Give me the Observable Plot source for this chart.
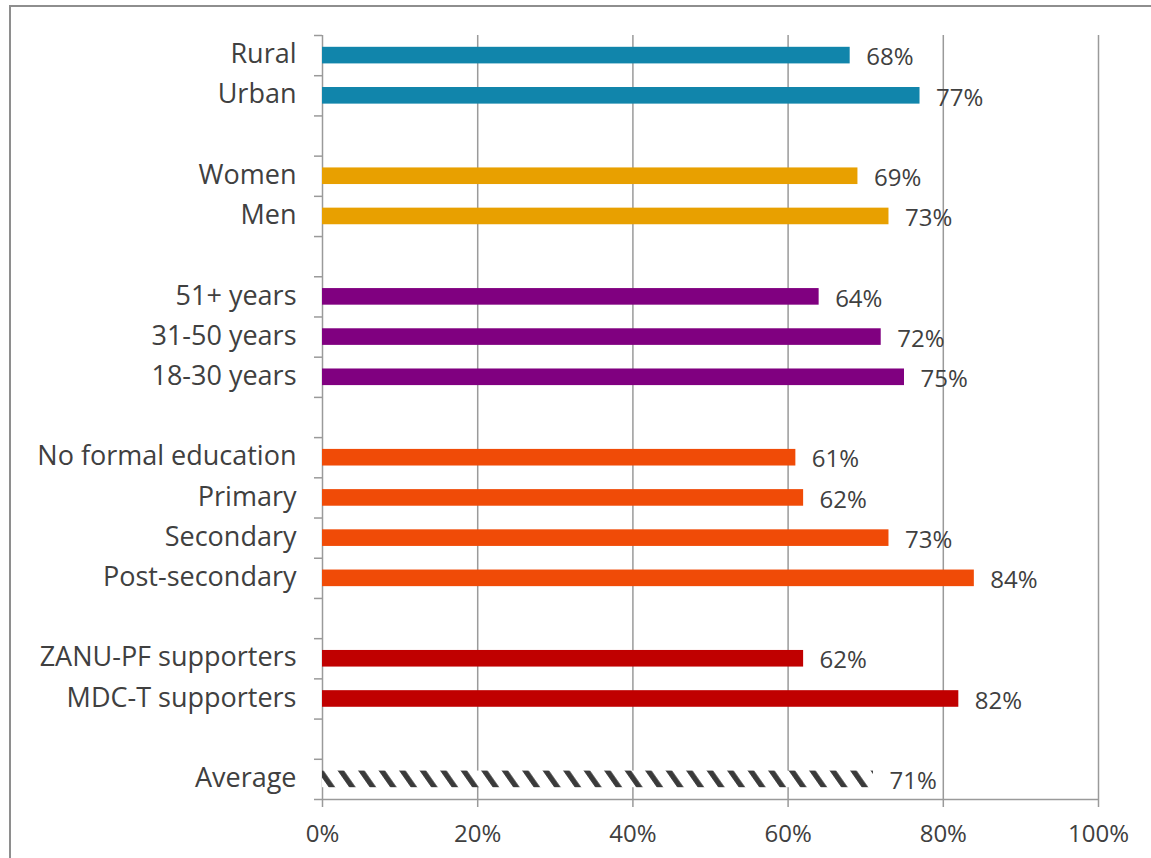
<!DOCTYPE html>
<html>
<head>
<meta charset="utf-8">
<script src="https://cdn.jsdelivr.net/npm/d3@7"></script>
<script src="https://cdn.jsdelivr.net/npm/@observablehq/plot@0.6"></script>
<style>
  html, body { margin: 0; padding: 0; background: #fff; }
  #wrap { position: relative; width: 1151px; height: 858px; overflow: hidden; background: #fff; }
  #border { position: absolute; left: 9px; top: 5px; width: 1160px; height: 880px; border: 2px solid #8e8e8e; box-sizing: border-box; }
  #chart { position: absolute; left: 0; top: 0; }
  #chart svg { font-family: "Open Sans", sans-serif; }
</style>
</head>
<body>
<div id="wrap">
  <div id="border"></div>
  <div id="chart"></div>
</div>
<script>
// Row labels in display order (null = spacer row between groups)
const categories = ["Rural", "Urban", null, "Women", "Men", null,
  "51+ years", "31-50 years", "18-30 years", null,
  "No formal education", "Primary", "Secondary", "Post-secondary", null,
  "ZANU-PF supporters", "MDC-T supporters", null, "Average"];
// Percentages
const values = [68, 77, null, 69, 73, null, 64, 72, 75, null, 61, 62, 73, 84, null, 62, 82, null, 71];
// Group of each row
const groups = ["Location", "Location", null, "Gender", "Gender", null,
  "Age", "Age", "Age", null,
  "Education", "Education", "Education", "Education", null,
  "Party", "Party", null, "Average"];
const groupNames = ["Location", "Gender", "Age", "Education", "Party", "Average"];
const groupColors = ["#1185AB", "#E8A000", "#800080", "#F04B07", "#C00000", "url(#hatch)"];
const xTicks = [0, 20, 40, 60, 80, 100];

const rows = categories.map((label, i) => ({row: i, label, value: values[i], group: groups[i]}))
  .filter(d => d.label !== null);
const nRows = categories.length;
const inset = 0.2935;
const textColor = "#404040";
const gridColor = "#9a9a9a";

const plot = Plot.plot({
  width: 1151,
  height: 858,
  marginLeft: 322,
  marginRight: 53,
  marginTop: 35,
  marginBottom: 59,
  style: {background: "transparent", color: textColor},
  x: {domain: [0, 100]},
  y: {domain: [0, nRows], reverse: true},
  color: {domain: groupNames, range: groupColors},
  marks: [
    Plot.ruleX(xTicks, {stroke: gridColor, strokeWidth: 1.5}),
    Plot.ruleY([nRows], {stroke: gridColor, strokeWidth: 1.5}),
    Plot.axisX({ticks: xTicks, tickFormat: d => d + "%", tickSize: 8, tickPadding: 17,
      stroke: gridColor, strokeWidth: 1.5, fill: textColor, fontSize: 24, label: null}),
    Plot.axisY({ticks: d3.range(nRows + 1), tickFormat: () => "", tickSize: 8,
      stroke: gridColor, strokeWidth: 1.5, label: null}),
    Plot.rectX(rows, {x: "value", y1: d => d.row + inset, y2: d => d.row + 1 - inset, fill: "group"}),
    Plot.text(rows, {x: "value", y: d => d.row + 0.5, text: d => d.value + "%", textAnchor: "start",
      dx: 16, dy: 2, fill: textColor, fontSize: 24}),
    Plot.text(rows, {x: 0, y: d => d.row + 0.5, text: "label", textAnchor: "end",
      dx: -26, dy: -1, fill: textColor, fontSize: 27})
  ]
});

// hatch pattern for the Average bar
const ns = "http://www.w3.org/2000/svg";
const defs = document.createElementNS(ns, "defs");
const pat = document.createElementNS(ns, "pattern");
pat.setAttribute("id", "hatch");
pat.setAttribute("patternUnits", "userSpaceOnUse");
pat.setAttribute("width", "20.5");
pat.setAttribute("height", "20");
pat.setAttribute("patternTransform", "skewX(35)");
const bg = document.createElementNS(ns, "rect");
bg.setAttribute("width", "20.5"); bg.setAttribute("height", "20"); bg.setAttribute("fill", "#fff");
const st = document.createElementNS(ns, "rect");
st.setAttribute("x", "3"); st.setAttribute("width", "6.5"); st.setAttribute("height", "20"); st.setAttribute("fill", "#3a3a3a");
pat.appendChild(bg); pat.appendChild(st); defs.appendChild(pat);
plot.insertBefore(defs, plot.firstChild);

document.getElementById("chart").appendChild(plot);
</script>
</body>
</html>
